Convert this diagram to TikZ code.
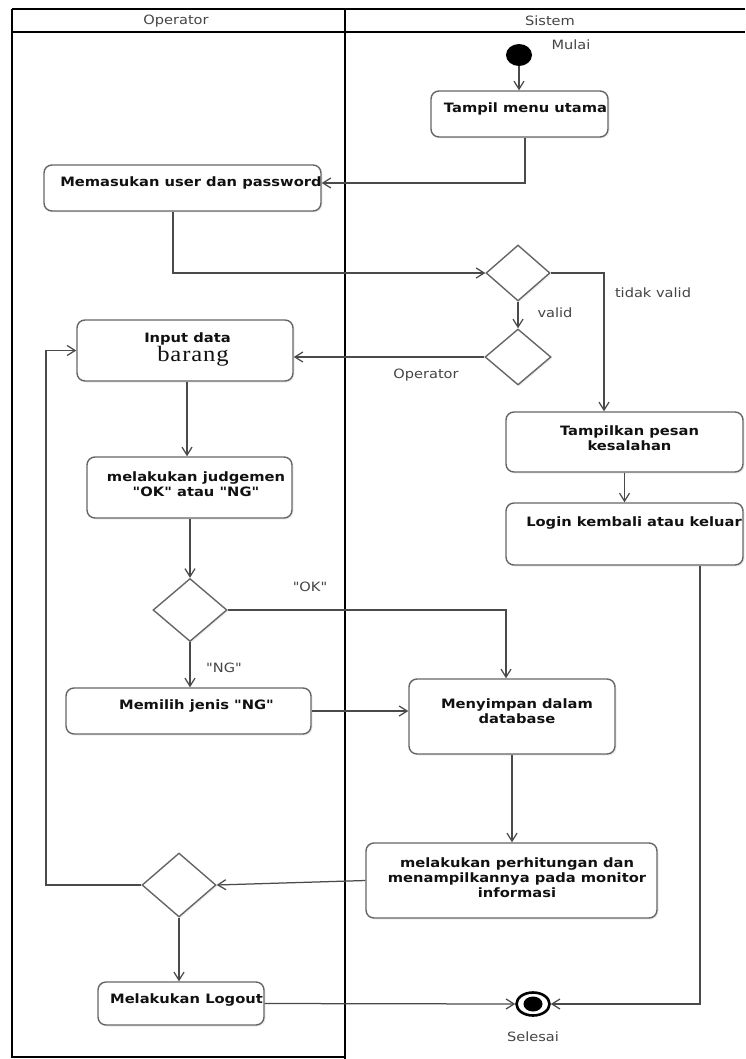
\documentclass[tikz,border=0pt]{standalone}
\usepackage{fontspec}
\usetikzlibrary{arrows.meta,shapes.geometric,shadows,calc}
\newfontfamily\boxfont[FakeStretch=1.14]{DejaVu Sans}
\newfontfamily\lblfont[FakeStretch=1.14]{DejaVu Sans}
\newfontfamily\bigserif[FakeStretch=1.12,LetterSpace=4]{Liberation Serif}
\definecolor{edge}{HTML}{4A4A4A}
\definecolor{border}{HTML}{666666}
\definecolor{ink}{HTML}{111111}
\definecolor{lbl}{HTML}{444444}

\begin{document}
\begin{tikzpicture}[x=1pt,y=-1pt,
  lane/.style={line width=1.8pt, draw=black},
  actbox/.style={draw=border, line width=1.4pt, rounded corners=8pt, fill=white, inner sep=0pt,
    drop shadow={shadow xshift=1.5pt, shadow yshift=-1.5pt, opacity=0.15}},
  decision/.style={diamond, draw=border, line width=1.4pt, fill=white, inner sep=0pt,
    drop shadow={shadow xshift=1.5pt, shadow yshift=-1.5pt, opacity=0.12}},
  boxtext/.style={font=\boxfont\bfseries\fontsize{12.9}{15}\selectfont, text=ink, align=center, inner sep=0pt},
  lbltext/.style={font=\lblfont\fontsize{12.8}{15}\selectfont, text=lbl, inner sep=0pt},
  flow/.style={draw=edge, line width=1.25pt, -{Straight Barb[length=8pt,width=10pt,line width=1.25pt]}}
]
\useasboundingbox (0,0) rectangle (745,1059);

% swimlane frame
\draw[lane] (12,9) -- (745,9);
\draw[lane] (12,32) -- (745,32);
\draw[lane] (12,9) -- (12,1057) -- (345,1057);
\draw[black, line width=2.2pt] (345,9) -- (345,1059);
\node[lbltext] (hdr-op) at (176,21) {Operator};
\node[lbltext] (hdr-sys) at (550,21) {Sistem};

% start and end
\node[ellipse, fill=black, minimum width=26pt, minimum height=22pt, inner sep=0pt] (start) at (519,55) {};
\node[lbltext] (mulai) at (571,45) {Mulai};
\node[ellipse, draw=black, line width=2.6pt, fill=white, minimum width=33pt, minimum height=23pt, inner sep=0pt] (final) at (533,1004) {};
\fill[black] (final.center) ellipse[x radius=9.5pt, y radius=7.5pt];
\node[lbltext] (selesai) at (533,1037) {Selesai};

% activities
\node[actbox, minimum width=177, minimum height=46] (tampil) at (519.5,114) {};
\node[boxtext] (tampil-t) at (525.5,109) {Tampil menu utama};

\node[actbox, minimum width=277, minimum height=46] (memasukan) at (182.5,188) {};
\node[boxtext] (memasukan-t) at (191,183) {Memasukan user dan password};

\node[actbox, minimum width=216, minimum height=61] (input) at (185,350.5) {};
\node[boxtext] (input-t) at (187.5,339) {Input data};
\node[font=\bigserif\fontsize{22}{24}\selectfont, text=ink, inner sep=0pt] (input-t2) at (193,356) {barang};

\node[actbox, minimum width=205, minimum height=61] (judgemen) at (189.5,487.5) {};
\node[boxtext] (judgemen-t) at (196,484.5) {melakukan judgemen\\"OK" atau "NG"};

\node[actbox, minimum width=245, minimum height=46] (memilih) at (188.5,711) {};
\node[boxtext] (memilih-t) at (196.5,706) {Memilih jenis "NG"};

\node[actbox, minimum width=166, minimum height=43] (logout) at (181,1003.5) {};
\node[boxtext] (logout-t) at (186.5,1000) {Melakukan Logout};

\node[actbox, minimum width=237, minimum height=60] (tampilkan) at (624.5,442) {};
\node[boxtext] (tampilkan-t) at (629.5,438.5) {Tampilkan pesan\\kesalahan};

\node[actbox, minimum width=237, minimum height=62] (login) at (624.5,534) {};
\node[boxtext] (login-t) at (634,523) {Login kembali atau keluar};

\node[actbox, minimum width=206, minimum height=75] (menyimpan) at (512,716.5) {};
\node[boxtext] (menyimpan-t) at (517,711.5) {Menyimpan dalam\\database};

\node[actbox, minimum width=291, minimum height=75] (hitung) at (511.5,880.5) {};
\node[boxtext] (hitung-t) at (517,877.5) {melakukan perhitungan dan\\menampilkannya pada monitor\\informasi};

% decisions
\node[decision, minimum width=64, minimum height=56] (d1) at (518,273) {};
\node[decision, minimum width=66, minimum height=56] (d2) at (518,357) {};
\node[decision, minimum width=74, minimum height=63] (d3) at (190,610) {};
\node[decision, minimum width=74, minimum height=64] (d4) at (179,885) {};

% guard labels
\node[lbltext] (l-valid) at (555,313) {valid};
\node[lbltext] (l-tidak) at (653,293) {tidak valid};
\node[lbltext] (l-oper) at (426,375) {Operator};
\node[lbltext] (l-ok) at (310,587) {"OK"};
\node[lbltext] (l-ng) at (224,668) {"NG"};

% connectors
\coordinate (loopx) at (46,0);
\draw[flow] (start) -- (start |- tampil.north);
\draw[flow] ([xshift=5.5pt]tampil.south) |- ([yshift=5pt]memasukan.east);
\draw[flow] ([xshift=-9.5pt]memasukan.south) |- (d1.west);
\draw[flow] (d1.south) -- (d2.north);
\draw[flow] (d1.east) -| ([xshift=-20.5pt]tampilkan.north);
\draw[flow] (d2.west) -- (d2.west -| input.east);
\draw[flow] ([xshift=2pt]input.south) -- ([xshift=2pt]input.south |- judgemen.north);
\draw[flow] (judgemen.south -| d3.north) -- (d3.north);
\draw[flow] (d3.east) -| ([xshift=-6pt]menyimpan.north);
\draw[flow] (d3.south) -- (d3.south |- memilih.north);
\draw[flow] (memilih.east) -- (memilih.east -| menyimpan.west);
\draw[flow] (menyimpan.south) -- (menyimpan.south |- hitung.north);
\draw[flow] (hitung.west) -- (d4.east);
\draw[flow] (d4.west) -- (d4.west -| loopx) |- (input.west);
\draw[flow] (d4.south) -- (d4.south |- logout.north);
\draw[flow] (logout.east) -- (final.west);
\draw[flow] (tampilkan.south) -- (login.north);
\draw[flow] ([xshift=75.5pt]login.south) |- (final.east);
\end{tikzpicture}
\end{document}
